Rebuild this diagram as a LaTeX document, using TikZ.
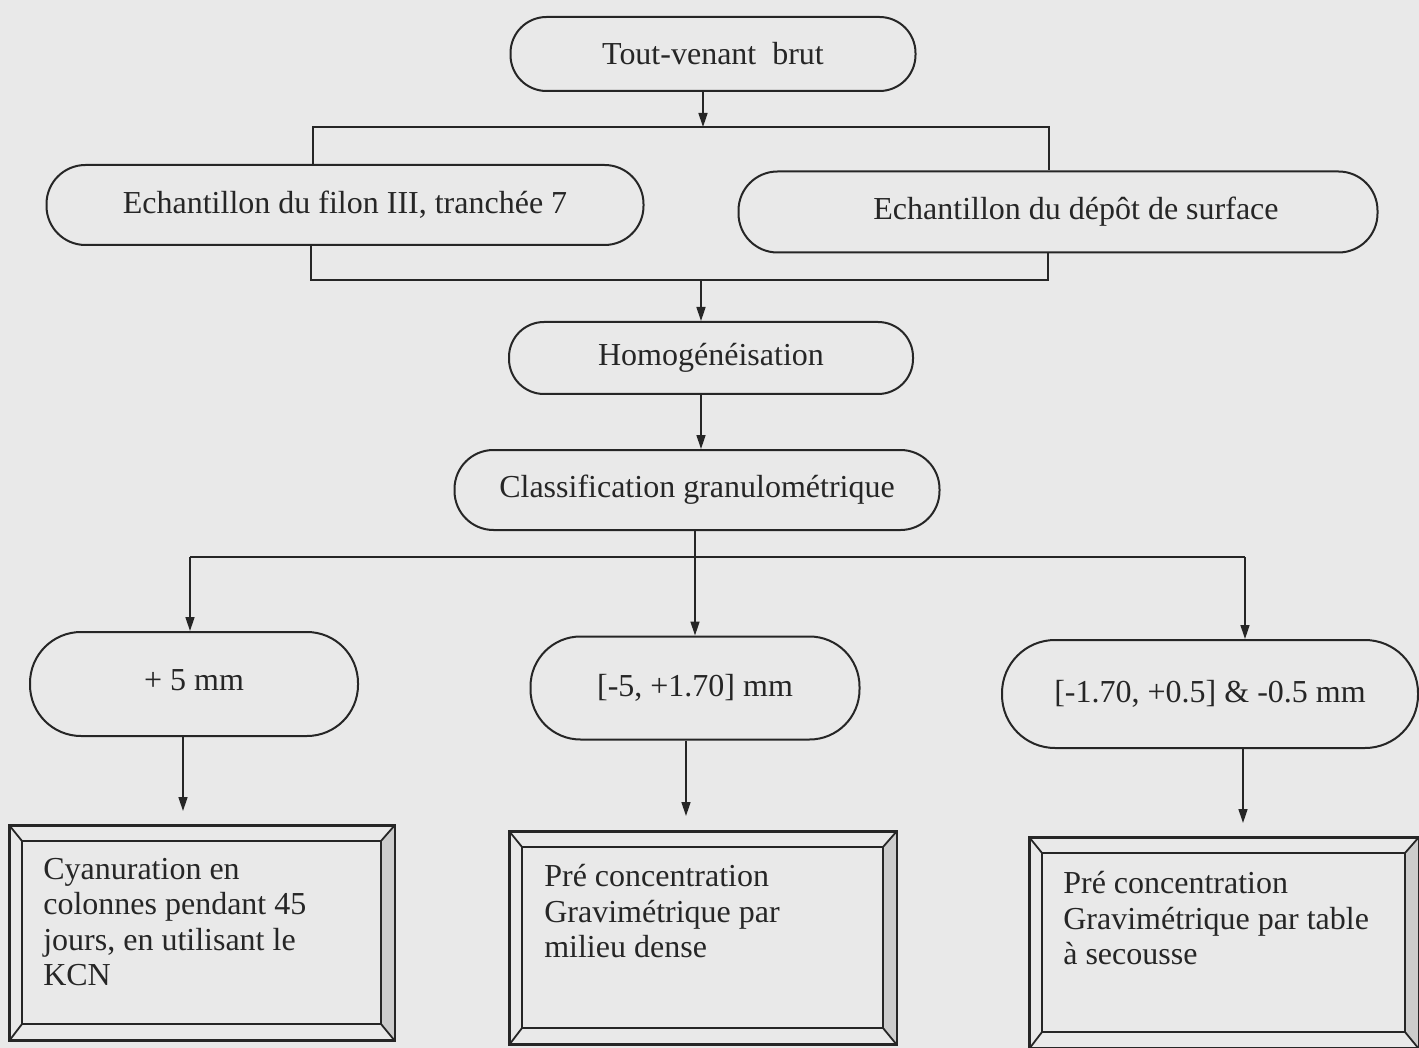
\documentclass[tikz,border=0pt]{standalone}
\usepackage{fontspec}
\setmainfont{Liberation Serif}
\usetikzlibrary{arrows.meta}

\definecolor{paper}{RGB}{233,233,233}
\definecolor{ink}{RGB}{38,38,38}
\definecolor{bevelgray}{RGB}{204,204,204}

\tikzset{
  rnode/.style={draw=ink, line width=2pt, rounded corners=#1, inner sep=0pt,
                font=\fontsize{32}{36}\selectfont, text=ink},
  rnode/.default=34pt,
  link/.style={draw=ink, line width=1.5pt},
  arr/.style={link, -{Triangle[length=14pt,width=9pt]}},
  bracketline/.style={draw=ink, line width=2.2pt},
  frameline/.style={draw=ink, line width=1.8pt},
  framebox/.style={draw=ink, line width=1.8pt, inner sep=0pt},
  bodytext/.style={anchor=north west, inner sep=0pt, align=left, text=ink,
                   font=\fontsize{32}{35.5}\selectfont},
}

% bevelled frame drawn around a rectangular node
\newcommand\bevelframe[1]{%
  \coordinate (#1-inw) at ([shift={(13,16)}]#1.north west);
  \coordinate (#1-ine) at ([shift={(-14,16)}]#1.north east);
  \coordinate (#1-ise) at ([shift={(-14,-17)}]#1.south east);
  \coordinate (#1-isw) at ([shift={(13,-17)}]#1.south west);
  \fill[bevelgray] (#1.north east) -- (#1.south east) -- (#1-ise) -- (#1-ine) -- cycle;
  \draw[frameline] (#1.north west) rectangle (#1.south east);
  \draw[frameline] (#1-inw) rectangle (#1-ise);
  \draw[frameline] (#1.north west) -- (#1-inw);
  \draw[frameline] (#1.north east) -- (#1-ine);
  \draw[frameline] (#1.south east) -- (#1-ise);
  \draw[frameline] (#1.south west) -- (#1-isw);
}

\begin{document}
\begin{tikzpicture}[x=1pt,y=-1pt]
  \fill[paper] (0,0) rectangle (1419,1048);
  \useasboundingbox (0,0) rectangle (1419,1048);

  % ---- rounded process nodes
  \node[rnode=36pt, minimum width=405pt, minimum height=74pt] (tvb) at (713,54) {Tout-venant\ \ brut};
  \node[rnode=39pt, minimum width=597pt, minimum height=80pt] (ech1) at (345,205) {Echantillon du filon III, tranchée 7};
  \node[rnode=39pt, minimum width=639pt, minimum height=81pt] (ech2) at (1058,212) {\hspace*{36pt}Echantillon du dépôt de surface};
  \node[rnode=35pt, minimum width=404pt, minimum height=72pt] (hom) at (711,358) {Homogénéisation};
  \node[rnode=39pt, minimum width=485pt, minimum height=80pt] (cls) at (697,490) {Classification granulométrique};
  \node[rnode=51pt, minimum width=328pt, minimum height=104pt] (s1) at (194,684) {\raisebox{7pt}{+ 5 mm}};
  \node[rnode=50pt, minimum width=329pt, minimum height=103pt] (s2) at (695,688) {[-5, +1.70] mm};
  \node[rnode=53pt, minimum width=416pt, minimum height=108pt] (s3) at (1210,694) {[-1.70, +0.5] \& -0.5 mm};

  % ---- bevelled result frames
  \node[framebox, minimum width=384pt, minimum height=214pt] (b1) at (202,933) {};
  \node[framebox, minimum width=386pt, minimum height=212pt] (b2) at (703,938) {};
  \node[framebox, minimum width=388pt, minimum height=210pt] (b3) at (1224,943) {};
  \bevelframe{b1}
  \bevelframe{b2}
  \bevelframe{b3}

  \node[bodytext] (t1) at ([shift={(34,33)}]b1.north west)
    {Cyanuration en\\colonnes pendant 45\\jours, en utilisant le\\KCN};
  \node[bodytext] (t2) at ([shift={(35,33)}]b2.north west)
    {Pré concentration\\Gravimétrique par\\milieu dense};
  \node[bodytext] (t3) at ([shift={(34,34)}]b3.north west)
    {Pré concentration\\Gravimétrique par table\\à secousse};

  % ---- junction points
  \coordinate (brTL) at (313,127);
  \coordinate (brTR) at (1049,127);
  \coordinate (brBL) at (311,280);
  \coordinate (brBR) at (1048,280);
  \coordinate (j0) at (703,127);
  \coordinate (j1) at (701,280);
  \coordinate (xh) at (701,0);
  \coordinate (xm) at (695,0);
  \coordinate (busL) at (190,557);
  \coordinate (busR) at (1245,557);
  \coordinate (e1) at (183,811);
  \coordinate (e2) at (686,816);
  \coordinate (e3) at (1243,823);

  % ---- bracket joining the two samples
  \draw[arr] (tvb.south -| j0) -- (j0);
  \draw[bracketline] (ech1.north -| brTL) -- (brTL) -- (brTR) -- (ech2.north -| brTR);
  \draw[bracketline] (ech1.south -| brBL) -- (brBL) -- (brBR) -- (ech2.south -| brBR);
  \draw[arr] (j1) -- (hom.north -| j1);
  \draw[arr] (hom.south -| xh) -- (cls.north -| xh);

  % ---- size classes
  \draw[link] (busL) -- (busR);
  \draw[arr] (busL) -- (s1.north -| busL);
  \draw[arr] (busR) -- (s3.north -| busR);
  \draw[arr] (cls.south -| xm) -- (s2.north -| xm);

  % ---- treatments
  \draw[arr] (s1.south -| e1) -- (e1);
  \draw[arr] (s2.south -| e2) -- (e2);
  \draw[arr] (s3.south -| e3) -- (e3);
\end{tikzpicture}
\end{document}
